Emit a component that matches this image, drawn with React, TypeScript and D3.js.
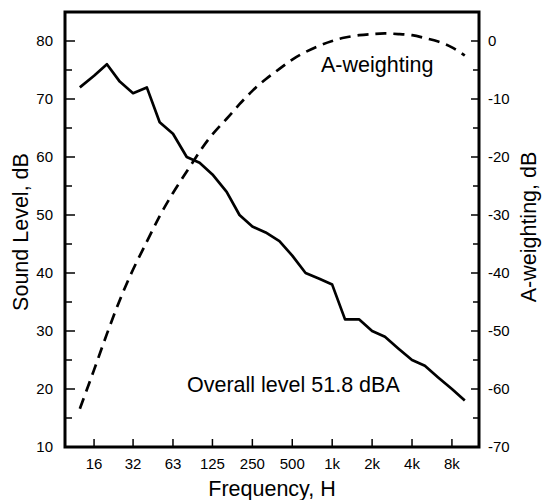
import React, { useEffect, useRef } from 'react';
import * as d3 from 'd3';

// 1/3-octave band centre frequencies, Hz
const freqs = [12.5, 16, 20, 25, 31.5, 40, 50, 63, 80, 100, 125, 160, 200, 250, 315, 400, 500, 630, 800, 1000, 1250, 1600, 2000, 2500, 3150, 4000, 5000, 6300, 8000, 10000];
// measured sound level, dB (left axis)
const soundLevel = [72, 74, 76, 73, 71, 72, 66, 64, 60, 59, 57, 54, 50, 48, 47, 45.5, 43, 40, 39, 38, 32, 32, 30, 29, 27, 25, 24, 22, 20, 18];
// A-weighting correction, dB (right axis)
const aWeighting = [-63.4, -56.7, -50.5, -44.7, -39.4, -34.6, -30.2, -26.2, -22.5, -19.1, -16.1, -13.4, -10.9, -8.6, -6.6, -4.8, -3.2, -1.9, -0.8, 0, 0.6, 1.0, 1.2, 1.3, 1.2, 1.0, 0.5, -0.1, -1.1, -2.5];

const xTickValues = [16, 31.5, 63, 125, 250, 500, 1000, 2000, 4000, 8000];
const xTickLabels = ['16', '32', '63', '125', '250', '500', '1k', '2k', '4k', '8k'];
const leftTicks = [10, 20, 30, 40, 50, 60, 70, 80];
const rightTicks = [-70, -60, -50, -40, -30, -20, -10, 0];

const FONT = 'Liberation Sans, Arial, Helvetica, sans-serif';

const App = () => {
  const chartRef = useRef<SVGSVGElement>(null);

  useEffect(() => {
    document.body.style.margin = '0';
    const width = 543;
    const height = 500;
    const left = 65, right = 479, top = 12, bottom = 447;

    const svg = d3.select(chartRef.current);
    svg.selectAll('*').remove();
    svg.attr('width', width).attr('height', height);

    const x = d3.scaleLog().base(2).domain([9.66, 12800]).range([left, right]);
    const yL = d3.scaleLinear().domain([10, 85]).range([bottom, top]);
    const yR = d3.scaleLinear().domain([-70, 5]).range([bottom, top]);

    // frame
    svg.append('rect')
      .attr('x', left).attr('y', top)
      .attr('width', right - left).attr('height', bottom - top)
      .attr('fill', 'none').attr('stroke', '#000').attr('stroke-width', 3);

    // left axis ticks (inside)
    const minorL = leftTicks.map(d => d + 5).filter(d => d < 85);
    svg.append('g').selectAll('line.maj').data(leftTicks).enter().append('line')
      .attr('x1', left).attr('x2', left + 10)
      .attr('y1', d => yL(d)).attr('y2', d => yL(d))
      .attr('stroke', '#000').attr('stroke-width', 1.5);
    svg.append('g').selectAll('line.min').data(minorL).enter().append('line')
      .attr('x1', left).attr('x2', left + 7)
      .attr('y1', d => yL(d)).attr('y2', d => yL(d))
      .attr('stroke', '#000').attr('stroke-width', 1.5);
    svg.append('g').selectAll('text').data(leftTicks).enter().append('text')
      .attr('x', left - 12).attr('y', d => yL(d))
      .attr('dy', '0.36em')
      .attr('text-anchor', 'end')
      .style('font-family', FONT).style('font-size', '15px')
      .text(d => d);

    // right axis ticks (inside)
    const minorR = rightTicks.map(d => d + 5).filter(d => d < 5);
    svg.append('g').selectAll('line.maj').data(rightTicks).enter().append('line')
      .attr('x1', right).attr('x2', right - 8)
      .attr('y1', d => yR(d)).attr('y2', d => yR(d))
      .attr('stroke', '#000').attr('stroke-width', 1.5);
    svg.append('g').selectAll('line.min').data(minorR).enter().append('line')
      .attr('x1', right).attr('x2', right - 6)
      .attr('y1', d => yR(d)).attr('y2', d => yR(d))
      .attr('stroke', '#000').attr('stroke-width', 1.5);
    svg.append('g').selectAll('text').data(rightTicks).enter().append('text')
      .attr('x', right + 9).attr('y', d => yR(d))
      .attr('dy', '0.36em')
      .attr('text-anchor', 'start')
      .style('font-family', FONT).style('font-size', '15px')
      .text(d => d);

    // bottom ticks (inside)
    svg.append('g').selectAll('line').data(xTickValues).enter().append('line')
      .attr('x1', d => x(d)).attr('x2', d => x(d))
      .attr('y1', bottom).attr('y2', bottom - 8)
      .attr('stroke', '#000').attr('stroke-width', 1.5);
    svg.append('g').selectAll('text').data(xTickValues).enter().append('text')
      .attr('x', d => x(d)).attr('y', 469)
      .attr('text-anchor', 'middle')
      .style('font-family', FONT).style('font-size', '15px')
      .text((d, i) => xTickLabels[i]);

    // A-weighting, dashed
    const aLine = d3.line<number>()
      .x((d, i) => x(freqs[i]))
      .y(d => yR(d))
      .curve(d3.curveNatural);
    svg.append('path')
      .attr('d', aLine(aWeighting))
      .attr('fill', 'none').attr('stroke', '#000')
      .attr('stroke-width', 2.7).attr('stroke-dasharray', '11,7');

    // sound level, solid
    const sLine = d3.line<number>()
      .x((d, i) => x(freqs[i]))
      .y(d => yL(d));
    svg.append('path')
      .attr('d', sLine(soundLevel))
      .attr('fill', 'none').attr('stroke', '#000')
      .attr('stroke-width', 2.7).attr('stroke-linejoin', 'round');

    // annotations
    svg.append('text')
      .attr('x', 321).attr('y', 72)
      .style('font-family', FONT).style('font-size', '21.5px')
      .text('A-weighting');
    svg.append('text')
      .attr('x', 187).attr('y', 392)
      .style('font-family', FONT).style('font-size', '21.5px')
      .text('Overall level 51.8 dBA');

    // axis titles
    svg.append('text')
      .attr('x', (left + right) / 2).attr('y', 496)
      .attr('text-anchor', 'middle')
      .style('font-family', FONT).style('font-size', '21.5px')
      .text('Frequency, H');
    svg.append('text')
      .attr('transform', 'translate(28, 232) rotate(-90)')
      .attr('text-anchor', 'middle')
      .style('font-family', FONT).style('font-size', '21.5px')
      .text('Sound Level, dB');
    svg.append('text')
      .attr('transform', 'translate(536, 227) rotate(-90)')
      .attr('text-anchor', 'middle')
      .style('font-family', FONT).style('font-size', '21.5px')
      .text('A-weighting, dB');
  }, []);

  return <svg ref={chartRef} style={{ display: 'block' }} />;
};

export default App;
